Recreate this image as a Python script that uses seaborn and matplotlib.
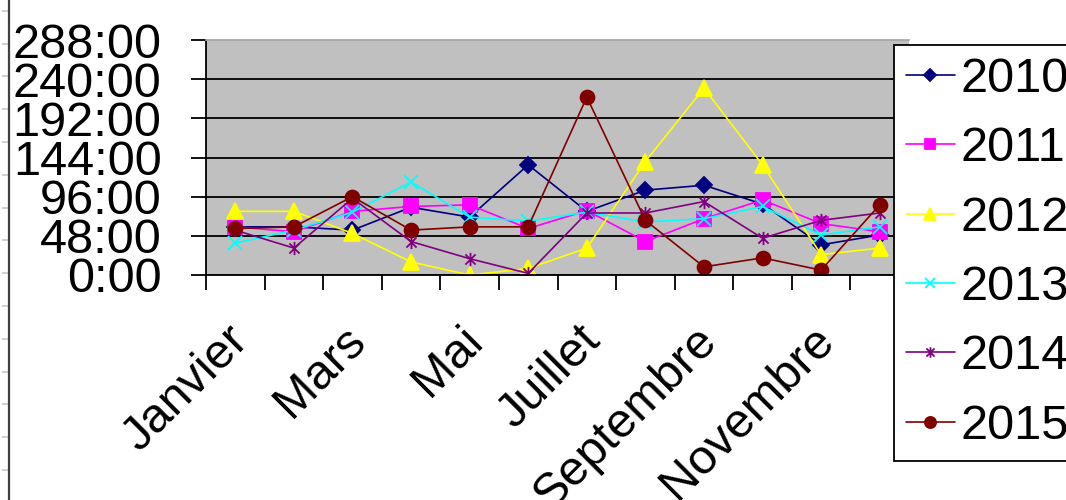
import matplotlib
matplotlib.use("Agg")
import matplotlib.pyplot as plt
import matplotlib.transforms as mtransforms
from matplotlib.path import Path
from matplotlib.ticker import FixedLocator, MultipleLocator, FuncFormatter, NullFormatter
import pandas as pd
import seaborn as sns

# Monthly values per year (hours)
months = ["Janvier", "Février", "Mars", "Avril", "Mai", "Juin",
          "Juillet", "Août", "Septembre", "Octobre", "Novembre", "Décembre"]
years = ["2010", "2011", "2012", "2013", "2014", "2015"]
v2010 = [59, 59, 55, 83, 71, 135, 78, 104, 110, 87, 37, 49]
v2011 = [59, 53, 78, 84, 86, 57, 79, 41, 69, 92, 63, 53]
v2012 = [78, 78, 51, 16, 0, 8, 33, 139, 229, 135, 25, 33]
v2013 = [39, 55, 77, 114, 71, 66, 77, 65, 69, 84, 49, 59]
v2014 = [55, 33, 94, 41, 20, 2, 76, 76, 90, 45, 67, 76]
v2015 = [57, 59, 96, 55, 59, 59, 218, 67, 10, 21, 6, 86]
shown_months = ["Janvier", "Mars", "Mai", "Juillet", "Septembre", "Novembre"]
y_ticks = [0, 48, 96, 144, 192, 240, 288]

series = dict(zip(years, [v2010, v2011, v2012, v2013, v2014, v2015]))
df = pd.DataFrame([
    {"mois": i, "annee": y, "heures": v}
    for y, vals in series.items() for i, v in enumerate(vals)
])

sns.set_theme(style="white")
plt.rcParams["font.family"] = ["Liberation Sans", "DejaVu Sans"]
plt.rcParams["text.color"] = "black"
plt.rcParams["xtick.labelcolor"] = "black"
plt.rcParams["ytick.labelcolor"] = "black"
FS = 35

# Excel-like asterisk marker: an x with a vertical stroke
asterisk = Path(
    [(-1, -1), (1, 1), (-1, 1), (1, -1), (0, -1.3), (0, 1.3)],
    [Path.MOVETO, Path.LINETO, Path.MOVETO, Path.LINETO, Path.MOVETO, Path.LINETO],
)

styles = {
    "2010": dict(color="#000080", marker="D", ms=8),
    "2011": dict(color="#FF00FF", marker="s", ms=9.5),
    "2012": dict(color="#FFFF00", marker="^", ms=11),
    "2013": dict(color="#00FFFF", marker="x", ms=9.5),
    "2014": dict(color="#800080", marker=asterisk, ms=9.5),
    "2015": dict(color="#800000", marker="o", ms=10),
}

W, H = 1066, 500
fig = plt.figure(figsize=(W / 100, H / 100), dpi=100)
ax = fig.add_axes([206 / W, 1 - 275 / H, 703 / W, 235 / H])
ax.set_facecolor("#C0C0C0")

for y in years:
    st = styles[y]
    filled = st["marker"] != "x" and st["marker"] is not asterisk
    sns.lineplot(
        data=df[df["annee"] == y], x="mois", y="heures", ax=ax,
        color=st["color"], marker=st["marker"], markersize=st["ms"],
        markeredgecolor=st["color"],
        markerfacecolor=st["color"] if filled else "none",
        markeredgewidth=1.3, linewidth=1.2, label=y, legend=False,
    )

ax.set_xlim(-0.5, 11.5)
ax.set_ylim(0, 288)
ax.set_xlabel("")
ax.set_ylabel("")

# y axis: time-like labels
ax.yaxis.set_major_locator(FixedLocator(y_ticks))
ax.yaxis.set_major_formatter(FuncFormatter(lambda v, p: f"{int(v)}:00"))
ax.tick_params(axis="y", which="major", direction="out", length=11, width=1.3,
               color="black", labelsize=FS, labelcolor="black", pad=21, left=True)
ax.grid(axis="y", color="black", linewidth=1.3)
ax.yaxis.get_gridlines()[-1].set_color("#A8A8A8")

# x axis: boundary ticks, labels on every other month
ax.xaxis.set_major_locator(MultipleLocator(1.0, offset=0.5))
ax.xaxis.set_major_formatter(NullFormatter())
label_pos = [months.index(m) for m in shown_months]
ax.xaxis.set_minor_locator(FixedLocator(label_pos))
ax.set_xticklabels(shown_months, minor=True)
ax.tick_params(axis="x", which="major", direction="out", length=11, width=1.3,
               color="black", bottom=True)
ax.tick_params(axis="x", which="minor", length=0, pad=42, labelsize=FS,
               labelcolor="black", bottom=True)
shift = mtransforms.ScaledTranslation(6 / 100, 0, fig.dpi_scale_trans)
for lab in ax.get_xticklabels(minor=True):
    lab.set_rotation(45)
    lab.set_ha("right")
    lab.set_va("center")
    lab.set_rotation_mode("anchor")
    lab.set_transform(lab.get_transform() + shift)

ax.spines["right"].set_visible(False)
ax.spines["top"].set_color("#A8A8A8")
for s in ("left", "bottom"):
    ax.spines[s].set_color("black")
    ax.spines[s].set_linewidth(1.3)

# legend box on the right
handles, labels = ax.get_legend_handles_labels()
leg = fig.legend(
    handles, labels, loc="upper left", bbox_to_anchor=(894 / W, 1 - 45 / H),
    frameon=True, fancybox=False, edgecolor="black", facecolor="white",
    fontsize=FS, handlelength=1.0, handletextpad=0.12, labelspacing=0.5,
    borderpad=0.25, borderaxespad=0, markerscale=0.8, labelcolor="black",
)
leg.get_frame().set_linewidth(1.3)
leg.get_frame().set_alpha(1)

# outer axis strip along the left edge
side = fig.add_axes([8.5 / W, 0, 0.0005, 1])
side.set_ylim(-30, 470)
side.set_xlim(0, 1)
side.yaxis.set_major_locator(MultipleLocator(32.8))
side.yaxis.set_major_formatter(NullFormatter())
side.set_xticks([])
for s in ("top", "right", "bottom"):
    side.spines[s].set_visible(False)
side.spines["left"].set_color("#404040")
side.spines["left"].set_linewidth(1.6)
side.tick_params(axis="y", direction="out", length=5, width=1.2, color="#C8C8C8", left=True)
side.set_facecolor("none")

fig.savefig("out.png", dpi=100, facecolor="white")
